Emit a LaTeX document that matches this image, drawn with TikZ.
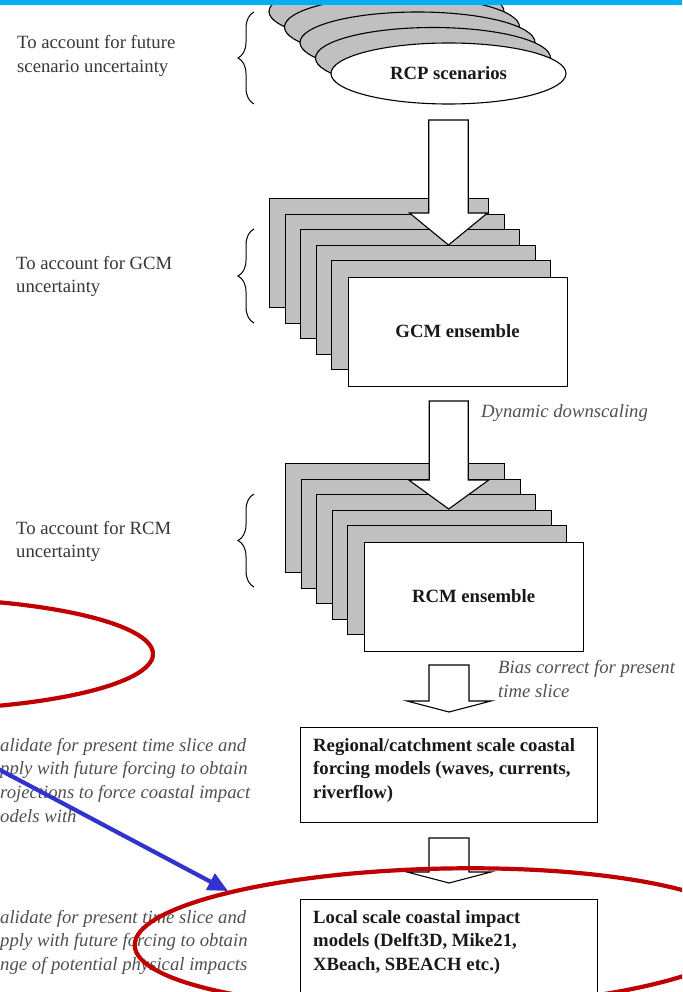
\documentclass[tikz,border=0pt]{standalone}
\usepackage{fontspec}
\setmainfont{Liberation Serif}
\usetikzlibrary{decorations.pathreplacing,arrows.meta,shapes.geometric}
\definecolor{barcyan}{RGB}{0,176,240}
\definecolor{boxgray}{RGB}{192,192,192}
\definecolor{hired}{RGB}{192,0,0}
\definecolor{hiblue}{RGB}{50,50,205}
\definecolor{plaintxt}{RGB}{55,55,55}
\definecolor{italtxt}{RGB}{80,80,80}
\definecolor{boldtxt}{RGB}{25,25,25}
\newcommand{\blockarr}[6]{%
  \draw[blockarrow] ({#1-#5},#2) -- ({#1+#5},#2) -- ({#1+#5},#3) -- ({#1+#6},#3)
    -- (#1,#4) -- ({#1-#6},#3) -- ({#1-#5},#3) -- cycle;}
\begin{document}
\begin{tikzpicture}[x=1pt,y=-1pt,
  layer/.style={draw=black,line width=1.1pt,fill=boxgray},
  frontshape/.style={draw=black,line width=1.1pt,fill=white,inner sep=0pt,
    text=boldtxt,font=\fontsize{18.7}{23.8}\selectfont\bfseries},
  blockarrow/.style={draw=black,line width=1.1pt,fill=white,line join=miter},
  bracestyle/.style={draw=black,line width=1pt,decorate,decoration={brace,amplitude=16pt}},
  plain/.style={text=plaintxt,font=\fontsize{18.7}{23.8}\selectfont,inner sep=0pt,align=left,anchor=base west},
  ital/.style={text=italtxt,font=\fontsize{18.7}{23.8}\selectfont\itshape,inner sep=0pt,align=left,anchor=base west},
  boldlbl/.style={text=boldtxt,font=\fontsize{18.7}{23.8}\selectfont\bfseries,inner sep=0pt,align=left,anchor=base west},
  highlight/.style={draw=hired,line width=4.2pt},
  pointer/.style={draw=hiblue,line width=4.2pt,-{Triangle[length=20pt,width=18pt]}}
]
\useasboundingbox (0,0) rectangle (682,992);
\clip (0,0) rectangle (682,992);
\fill[white] (0,0) rectangle (682,992);

% RCP ellipse stack
\foreach \k in {4,3,2,1}
  \draw[layer] ({448.5-15.5*\k},{73.5-15.5*\k}) ellipse [x radius=117.5pt, y radius=30.5pt];
\node[frontshape, ellipse, minimum width=235pt, minimum height=61pt] (rcp) at (448.5,73.5) {\raisebox{-3pt}{RCP scenarios}};

% cyan top bar
\fill[barcyan] (0,0) rectangle (682,5.5);

% GCM stack
\foreach \k in {0,1,2,3,4}
  \draw[layer] ({269.5+15.6*\k},{198.5+15.6*\k}) rectangle ++(219,109);
\node[frontshape, minimum width=219pt, minimum height=109pt, anchor=north west] (gcm) at (347.5,276.5) {GCM ensemble};

% RCM stack
\foreach \k in {0,1,2,3,4}
  \draw[layer] ({285.5+15.6*\k},{463.5+15.6*\k}) rectangle ++(219,109);
\node[frontshape, minimum width=219pt, minimum height=109pt, anchor=north west] (rcm) at (363.5,541.5) {\raisebox{-5pt}{RCM ensemble}};

% block arrows
\blockarr{448.5}{120}{213}{245}{19.75}{39}
\blockarr{448.75}{401}{480}{509}{19.5}{40}
\blockarr{449}{665}{701}{712}{20}{42}
\blockarr{449}{838}{872}{883}{20}{42}

% model boxes
\node[draw=black, line width=1.1pt, fill=white, minimum width=297pt, minimum height=95pt, anchor=north west, inner sep=0pt] (regional) at (300,727) {};
\node[draw=black, line width=1.1pt, fill=white, minimum width=297pt, minimum height=120pt, anchor=north west, inner sep=0pt] (local) at (300,899) {};
% (anchor base = baseline of the last line)
\node[boldlbl] (regtxt) at (313,798.6) {Regional/catchment scale coastal\\forcing models (waves, currents,\\riverflow)};
\node[boldlbl] (loctxt) at (313,970.6) {Local scale coastal impact\\models (Delft3D, Mike21,\\XBeach, SBEACH etc.)};

% braces
\draw[bracestyle] (254,104) -- (254,12);
\draw[bracestyle] (254,323) -- (254,229);
\draw[bracestyle] (254,587) -- (254,494);

% side texts
\node[plain] (futtxt) at (17,72.8) {To account for future\\scenario uncertainty};
\node[plain] (gcmtxt) at (16,292.8) {To account for GCM\\uncertainty};
\node[plain] (rcmtxt) at (16,557.8) {To account for RCM\\uncertainty};
\node[ital] (dyn) at (481,417) {Dynamic downscaling};
\node[ital] (bias) at (498,697.3) {Bias correct for present\\time slice};
\node[ital] (valtxta) at (0,822.4) {alidate for present time slice and\\pply with future forcing to obtain\\rojections to force coastal impact\\odels with};
\node[ital] (valtxtb) at (0,970.6) {alidate for present time slice and\\pply with future forcing to obtain\\nge of potential physical impacts};

% highlights
\draw[highlight] (-97,654) ellipse [x radius=250pt, y radius=56pt];
\draw[highlight, rotate around={1.3:(441.3,938.4)}] (441.3,938.4) ellipse [x radius=306.7pt, y radius=69.8pt];
\coordinate (bluestart) at (-5,767.3);
\coordinate (bluetip) at (228,891);
\draw[pointer] (bluestart) -- (bluetip);
\end{tikzpicture}
\end{document}
